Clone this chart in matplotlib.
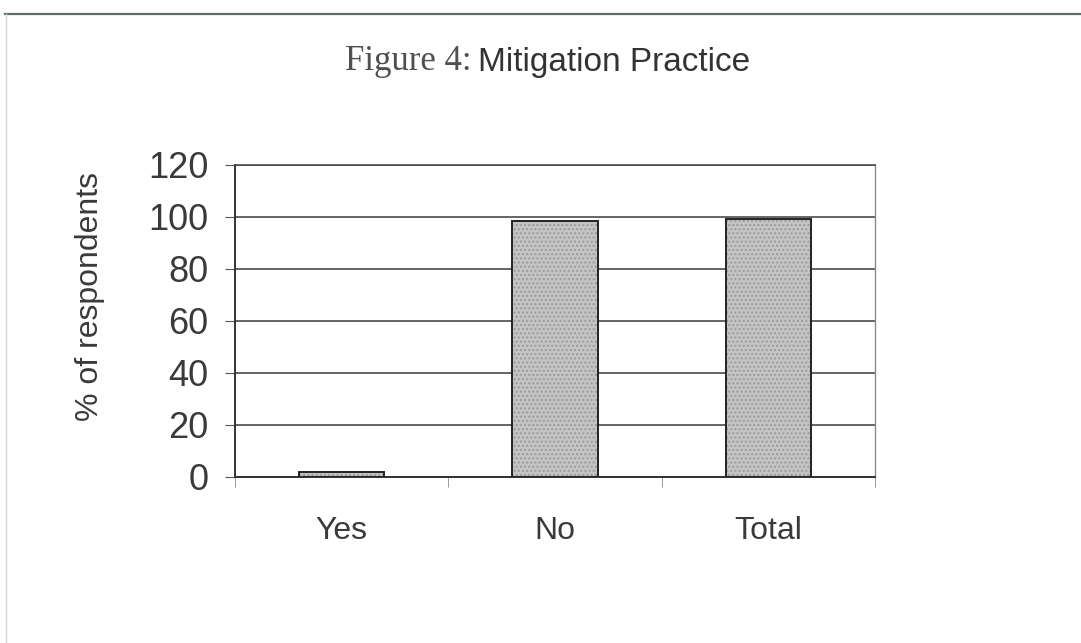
import matplotlib
matplotlib.use("Agg")
import matplotlib.pyplot as plt
from matplotlib.lines import Line2D
from matplotlib.ticker import FixedLocator

categories = ["Yes", "No", "Total"]
values = [2, 98.5, 99.2]
yticks = [0, 20, 40, 60, 80, 100, 120]

fig = plt.figure(figsize=(10.81, 6.43), dpi=100)
fig.patch.set_facecolor("white")

# outer frame lines (top, left)
fig.add_artist(Line2D([5/1081, 1.0], [1-14/643, 1-14/643], transform=fig.transFigure,
                      color="#5f6f68", lw=1.6))
fig.add_artist(Line2D([6/1081, 6/1081], [1-14/643, 0.0], transform=fig.transFigure,
                      color="#d5d5d5", lw=1.0))

ax = fig.add_axes([235/1081, 1-477/643, 640/1081, 312/643])
x = list(range(len(categories)))
# stippled fill
ax.bar(x, values, width=0.4, color="#c4c4c4", edgecolor="#9a9a9a", linewidth=0,
       hatch="....", zorder=3)
# outline
ax.bar(x, values, width=0.4, fill=False, edgecolor="#222222", linewidth=1.4, zorder=4)

ax.set_xlim(-0.5, 2.5)
ax.set_ylim(0, 120)
ax.set_yticks(yticks)
ax.set_yticklabels([str(v) for v in yticks], fontsize=26, color="#3a3a3a",
                   family="Liberation Sans")
ax.set_xticks(x)
ax.set_xticklabels(categories, fontsize=23, color="#3a3a3a", family="Liberation Sans")
ax.xaxis.set_minor_locator(FixedLocator([-0.5, 0.5, 1.5, 2.5]))
ax.tick_params(axis="x", which="major", length=0, pad=28)
ax.tick_params(axis="x", which="minor", length=7, color="#888888", direction="out")
ax.tick_params(axis="y", length=7, color="#555555", direction="out", pad=12)

ax.grid(axis="y", color="#4a4a4a", linewidth=1.2, zorder=0)
ax.set_axisbelow(True)
for s in ["left", "bottom"]:
    ax.spines[s].set_color("#333333")
    ax.spines[s].set_linewidth(1.4)
ax.spines["top"].set_color("#4a4a4a")
ax.spines["top"].set_linewidth(1.2)
ax.spines["right"].set_color("#8a8a8a")
ax.spines["right"].set_linewidth(1.0)

ax.set_ylabel("% of respondents", fontsize=23, color="#3a3a3a",
              family="Liberation Sans")
ax.yaxis.set_label_coords(-130/640, 0.577)

# title: serif prefix + sans part
fig.text(472/1081, 1-62/643, "Figure 4:", family="Liberation Serif", fontsize=25,
         color="#505050", ha="right", va="center")
fig.text(478/1081, 1-62/643, "Mitigation Practice", family="Liberation Sans",
         fontsize=24, color="#333333", ha="left", va="center")

fig.savefig("out.png", dpi=100, facecolor="white")
